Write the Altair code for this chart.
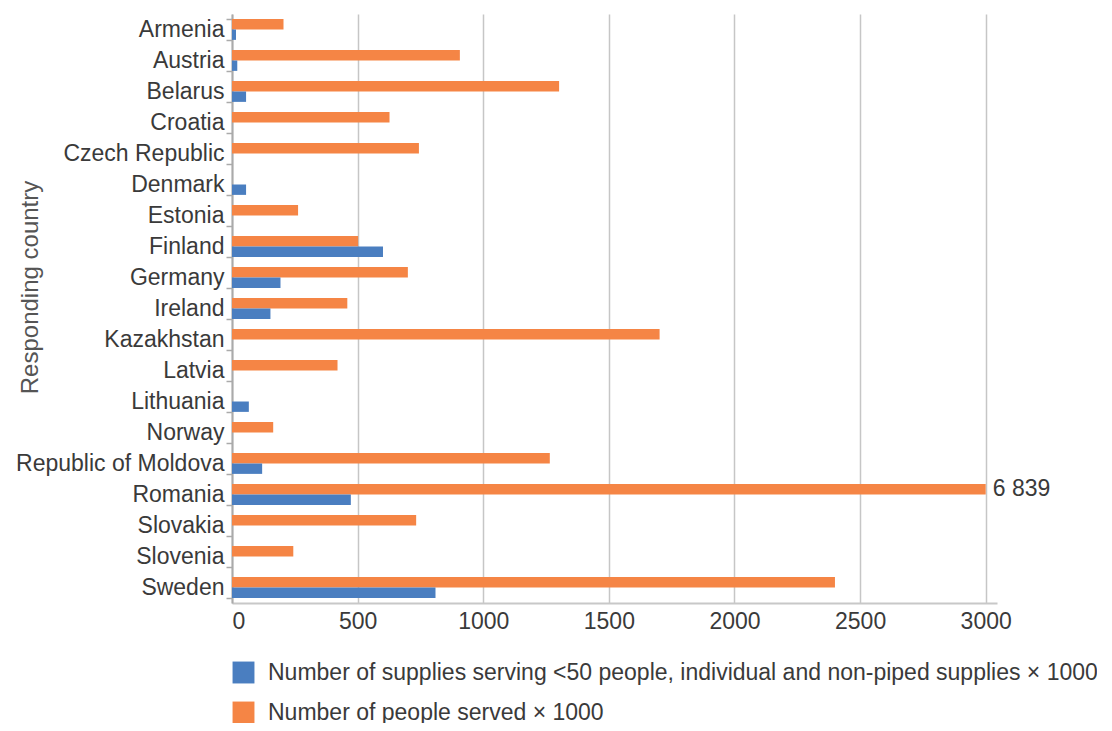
import altair as alt
import pandas as pd

countries = ["Armenia", "Austria", "Belarus", "Croatia", "Czech Republic", "Denmark",
             "Estonia", "Finland", "Germany", "Ireland", "Kazakhstan", "Latvia",
             "Lithuania", "Norway", "Republic of Moldova", "Romania", "Slovakia",
             "Slovenia", "Sweden"]
people_served = [205, 907, 1302, 627, 744, None, 263, 502, 700, 459, 1702, 420,
                 None, 164, 1265, 6839, 733, 244, 2400]
supplies = [16, 21, 56, None, None, 56, None, 601, 193, 153, None, None,
            67, None, 120, 473, None, None, 810]

sup_label = "Number of supplies serving <50 people, individual and non-piped supplies \u00d7 1000"
ppl_label = "Number of people served \u00d7 1000"
x_ticks = [0, 500, 1000, 1500, 2000, 2500, 3000]
axis_max = 3000

rows = []
for c, p, s in zip(countries, people_served, supplies):
    rows.append({"country": c, "series": ppl_label, "value": p})
    rows.append({"country": c, "series": sup_label, "value": s})
df = pd.DataFrame(rows)

FONT = "Liberation Sans"
BLUE = "#4a7ec0"
ORANGE = "#f58545"
TXT = "#3a3a3a"

y_enc = alt.Y("country:N", sort=countries,
              scale=alt.Scale(paddingInner=0.33, paddingOuter=0.165),
              axis=alt.Axis(title="Responding country", tickBand="extent",
                            labelFontSize=23, labelColor=TXT, labelPadding=2, labelLimit=400,
                            tickSize=6, tickColor="#aaaaaa", tickWidth=1.5,
                            domainColor="#aaaaaa", domainWidth=2,
                            titleFontSize=24, titleFontWeight="normal", titleColor="#555555",
                            titleX=-190, titleY=273, labelFont=FONT, titleFont=FONT))
yoff = alt.YOffset("series:N", sort=[ppl_label, sup_label])

base = alt.Chart(df).transform_filter("isValid(datum.value)").transform_calculate(
    xval=f"min(datum.value, {axis_max})"
)

bars = base.mark_bar().encode(
    y=y_enc,
    yOffset=yoff,
    x=alt.X("xval:Q", scale=alt.Scale(domain=[0, 3045], nice=False),
            axis=alt.Axis(values=x_ticks, format="d", title=None, ticks=False, labelFontSize=23,
                          labelColor=TXT, labelPadding=7, labelFont=FONT,
                          grid=True, gridColor="#c6c6c6", gridWidth=1.5,
                          domainColor="#c8c8c8", domainWidth=2)),
    color=alt.Color("series:N", scale=alt.Scale(domain=[sup_label, ppl_label], range=[BLUE, ORANGE]),
                    legend=alt.Legend(title=None, orient="none", legendX=0, legendY=647,
                                      direction="vertical", symbolType="square", symbolSize=480,
                                      symbolStrokeWidth=0, labelFontSize=23, labelColor=TXT,
                                      labelFont=FONT, labelLimit=1000, rowPadding=16,
                                      labelOffset=13)),
)

labels = base.transform_filter(f"datum.value > {axis_max}").transform_calculate(
    lbl="replace(format(datum.value, ','), ',', ' ')"
).mark_text(align="left", baseline="middle", dx=7, fontSize=23, font=FONT, color=TXT).encode(
    y=alt.Y("country:N", sort=countries),
    yOffset=yoff,
    x="xval:Q",
    text="lbl:N",
)

chart = alt.layer(bars, labels).properties(
    width=765, height=589,
    autosize=alt.AutoSizeParams(type="none"),
    padding={"left": 224, "top": 6, "right": 100, "bottom": 120},
).configure_view(stroke=None)

chart.save("out.html", embed_options={"renderer": "svg", "actions": False})
